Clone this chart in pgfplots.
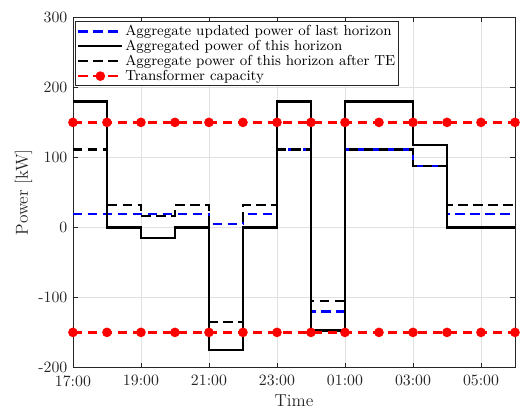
\documentclass[border=0pt]{standalone}
\usepackage{pgfplots}
\pgfplotsset{compat=1.18}
\definecolor{axgray}{rgb}{0.15,0.15,0.15}
\definecolor{mblue}{rgb}{0,0,1}
\definecolor{mred}{rgb}{1,0,0}
\begin{document}
\begin{tikzpicture}
\path[use as bounding box] (-46.2pt,-27.6pt) rectangle (283.8pt,232.7pt);
\begin{axis}[
 scale only axis, width=280pt, height=221.7pt,
 xmin=17, xmax=30, ymin=-200, ymax=300,
 xtick={17,19,...,29}, xticklabels={17:00,19:00,21:00,23:00,01:00,03:00,05:00},
 ytick={-200,-100,...,300}, yticklabels={-200,-100,0,100,200,300},
 grid=major, major grid style={black!12, line width=0.4pt},
 axis line style={axgray, line width=0.5pt},
 tick style={axgray, line width=0.5pt}, tick align=inside, major tick length=3pt,
 ticklabel style={font=\fontsize{10}{12}\selectfont, text=axgray},
 xticklabel style={yshift=-1.5pt},
 xlabel={Time}, ylabel={Power [kW]},
 label style={font=\fontsize{11}{13}\selectfont, text=axgray},
 xlabel style={yshift=1.5pt},
 ylabel style={yshift=-3pt},
 legend style={at={(0,1)}, anchor=north west, xshift=1.3pt, yshift=-2.5pt,
   font=\fontsize{9.2}{11}\selectfont, draw=axgray, line width=0.5pt,
   inner sep=1pt, nodes={inner sep=1pt}, row sep=-0.6pt},
 legend cell align=left,
 legend image code/.code={\draw[mark repeat=2, mark phase=2, #1] plot coordinates {(0pt,0pt)(14pt,0pt)(28pt,0pt)};},
]
\addplot[const plot, mblue, line width=1.6pt, dash pattern=on 6pt off 3.5pt] coordinates {
(17,19)(18,19)(19,19)(20,19)(21,4.5)(22,19)(23,111)(24,-120)(25,111)(26,111)(27,88)(28,19)(29,19)(30,19)};
\addlegendentry{Aggregate updated power of last horizon}
\addplot[const plot, black, line width=1.6pt] coordinates {
(17,180)(18,0)(19,-15)(20,0)(21,-175)(22,0)(23,180)(24,-147)(25,180)(26,180)(27,118)(28,0)(29,0)(30,0)};
\addlegendentry{Aggregated power of this horizon}
\addplot[const plot, black, line width=1.6pt, dash pattern=on 6pt off 3.5pt] coordinates {
(17,111)(18,32)(19,16)(20,32)(21,-135)(22,32)(23,111)(24,-105)(25,111)(26,111)(27,88)(28,32)(29,32)(30,32)};
\addlegendentry{Aggregate power of this horizon after TE}
\addplot[mred, line width=1.6pt, dash pattern=on 6pt off 3.5pt, mark=*, mark size=2.2pt, mark options={solid}] coordinates {
(17,150)(18,150)(19,150)(20,150)(21,150)(22,150)(23,150)(24,150)(25,150)(26,150)(27,150)(28,150)(29,150)(30,150)};
\addlegendentry{Transformer capacity}
\addplot[forget plot, mred, line width=1.6pt, dash pattern=on 6pt off 3.5pt, mark=*, mark size=2.2pt, mark options={solid}] coordinates {
(17,-150)(18,-150)(19,-150)(20,-150)(21,-150)(22,-150)(23,-150)(24,-150)(25,-150)(26,-150)(27,-150)(28,-150)(29,-150)(30,-150)};
\end{axis}
\end{tikzpicture}
\end{document}
